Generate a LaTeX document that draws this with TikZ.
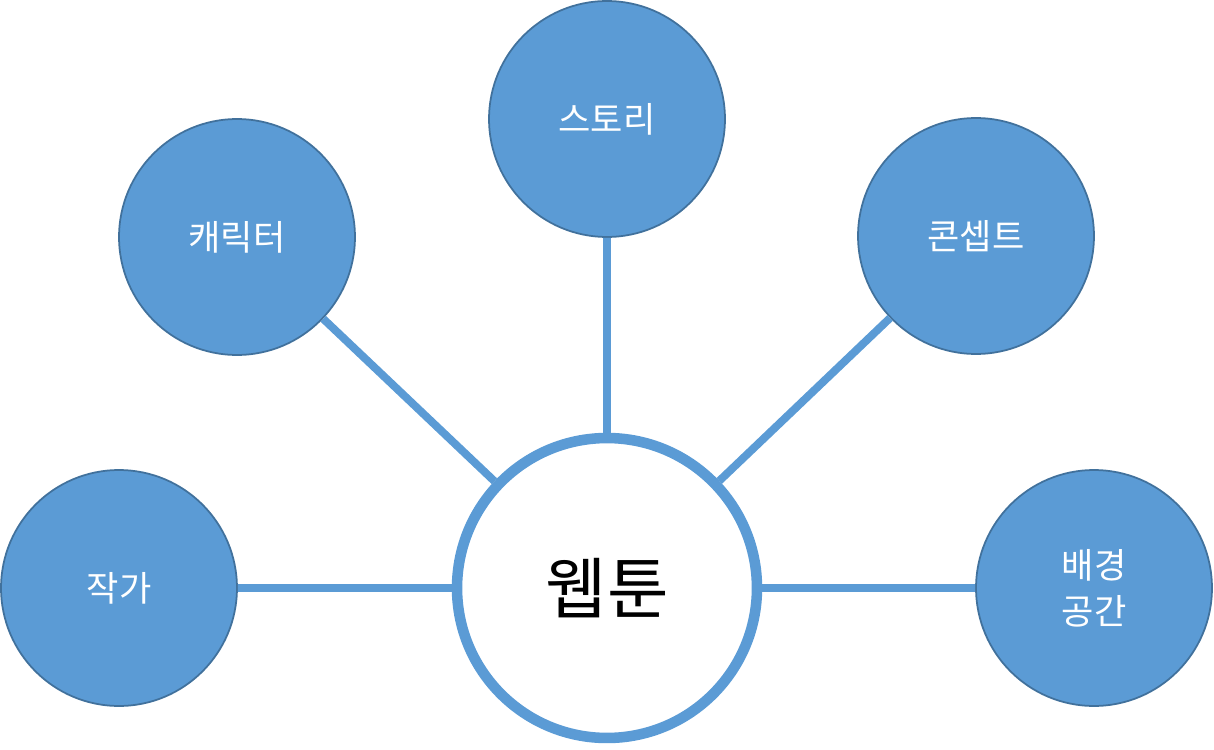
\documentclass[tikz,border=0pt]{standalone}
\usepackage{fontspec}
\setmainfont{Noto Sans CJK KR}
\definecolor{topiccol}{RGB}{91,155,213}
\definecolor{rimcol}{RGB}{65,113,156}
\begin{document}
\begin{tikzpicture}[
			x=0.02cm,
			y=-0.02cm,
			topic/.style={
				circle,
				draw=rimcol,
				fill=topiccol,
				line width=1pt,
				minimum size=4.72cm,
				text=white,
				align=center,
				font=\fontsize{20}{26}\selectfont
			},
			hub/.style={
				circle,
				draw=topiccol,
				fill=white,
				line width=6pt,
				minimum size=6.0cm,
				font=\fontsize{38}{44}\selectfont
			},
			link/.style={
				draw=topiccol,
				line width=4.5pt
			}
			]
			\useasboundingbox (0,0) rectangle (1214,750);
			% Topics
			\node[hub] (webtoon) at (607,588) {웹툰};
			\node[topic] (story) at (607,119) {스토리};
			\node[topic] (character) at (237,237) {캐릭터};
			\node[topic] (concept) at (976,236) {콘셉트};
			\node[topic] (author) at (119,588) {작가};
			\node[topic] (setting) at (1094,588) {배경\\공간};
			
			% Links
			\path[link]
			(webtoon) -- (story)
			(webtoon) -- (character)
			(webtoon) -- (concept)
			(webtoon) -- (author)
			(webtoon) -- (setting);
		\end{tikzpicture}
\end{document}
